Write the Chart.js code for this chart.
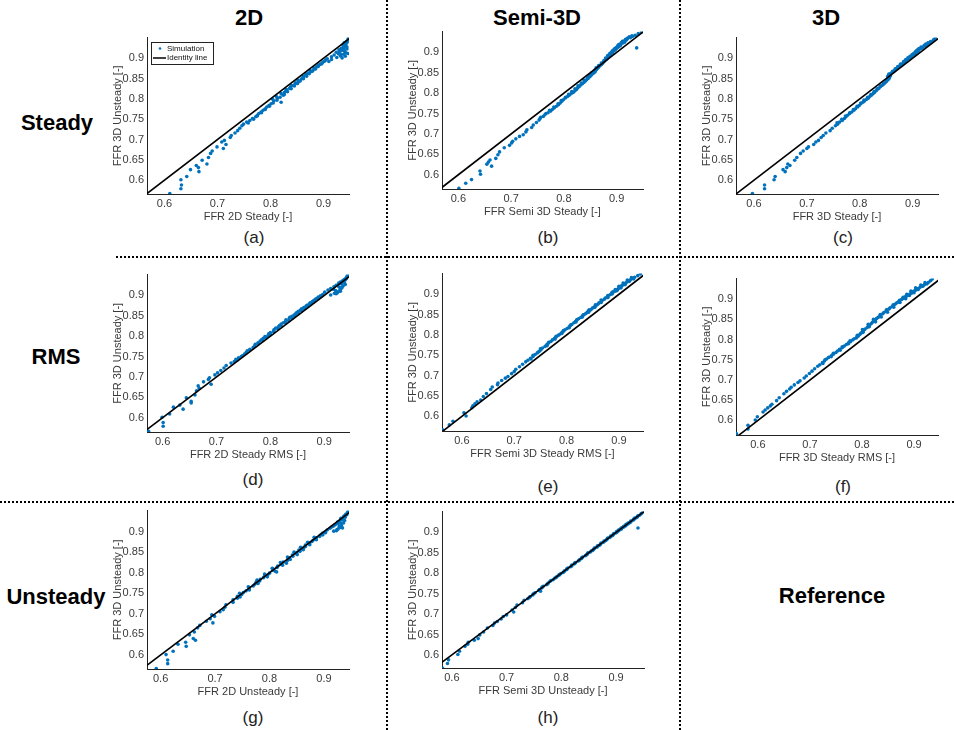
<!DOCTYPE html>
<html>
<head>
<meta charset="utf-8">
<title>FFR comparison</title>
<script src="https://cdn.jsdelivr.net/npm/chart.js@4.4.0/dist/chart.umd.min.js"></script>
<style>
    body {
        margin: 0;
        width: 954px;
        height: 730px;
        position: relative;
        overflow: hidden;
        background: #fff;
        font-family: 'Liberation Sans', Arial, sans-serif;
    }
    .txt {
        position: absolute;
        transform: translate(-50%, -50%);
        white-space: nowrap;
    }
    .head { font-weight: bold; font-size: 22px; color: #000; }
    .cap { font-size: 17px; color: #222; }
    .vline { position: absolute; width: 0; border-left: 2px dotted #000; }
    .hline { position: absolute; height: 0; border-top: 2px dotted #000; }
    canvas { position: absolute; }
</style>
</head>
<body>

<div class="vline" style="left:386px; top:0; height:730px;"></div>
<div class="vline" style="left:679px; top:0; height:730px;"></div>
<div class="hline" style="left:116px; top:256px; width:838px;"></div>
<div class="hline" style="left:0; top:501px; width:954px;"></div>

<div class="txt head" style="left:249px; top:18px;">2D</div>
<div class="txt head" style="left:537px; top:18px;">Semi-3D</div>
<div class="txt head" style="left:826px; top:18px;">3D</div>
<div class="txt head" style="left:57px; top:123px;">Steady</div>
<div class="txt head" style="left:56px; top:357px;">RMS</div>
<div class="txt head" style="left:56px; top:597px;">Unsteady</div>
<div class="txt head" style="left:832px; top:596px;">Reference</div>

<div class="txt cap" style="left:254px; top:238px;">(a)</div>
<div class="txt cap" style="left:548px; top:238px;">(b)</div>
<div class="txt cap" style="left:843px; top:238px;">(c)</div>
<div class="txt cap" style="left:253px; top:480px;">(d)</div>
<div class="txt cap" style="left:548px; top:487px;">(e)</div>
<div class="txt cap" style="left:843px; top:487px;">(f)</div>
<div class="txt cap" style="left:253px; top:718px;">(g)</div>
<div class="txt cap" style="left:548px; top:718px;">(h)</div>

<script>
// Reference FFR (3D unsteady), shared y values for every panel
const ffr3dUnsteady = [
    0.567, 0.579, 0.588, 0.601, 0.609, 0.621, 0.626, 0.631, 0.636, 0.640,
    0.649, 0.656, 0.666, 0.672, 0.678, 0.682, 0.688, 0.694, 0.698, 0.705,
    0.710, 0.716, 0.722, 0.728, 0.734, 0.738, 0.743, 0.747, 0.752, 0.756,
    0.760, 0.764, 0.768, 0.772, 0.776, 0.780, 0.784, 0.788, 0.792, 0.795,
    0.799, 0.802, 0.806, 0.809, 0.813, 0.816, 0.820, 0.823, 0.826, 0.830,
    0.833, 0.836, 0.840, 0.843, 0.846, 0.849, 0.852, 0.855, 0.858, 0.861,
    0.864, 0.867, 0.870, 0.873, 0.876, 0.879, 0.882, 0.885, 0.888, 0.891,
    0.893, 0.896, 0.899, 0.902, 0.904, 0.906, 0.908, 0.910, 0.911, 0.913,
    0.915, 0.917, 0.919, 0.921, 0.923, 0.925, 0.927, 0.930, 0.933, 0.936,
    0.939, 0.942, 0.946, 0.950,
    // second batch of cases
    0.741, 0.750, 0.758, 0.766, 0.774, 0.782, 0.790, 0.797, 0.804, 0.811,
    0.818, 0.825, 0.832, 0.838, 0.844, 0.850, 0.856, 0.862, 0.868, 0.874,
    0.880, 0.886, 0.892, 0.897, 0.901, 0.905, 0.909, 0.912, 0.916, 0.920,
    0.924, 0.928, 0.932, 0.935, 0.938, 0.941
];

// Reduced-order model predictions, same case order as ffr3dUnsteady
const ffr2dSteady = [
    0.610, 0.631, 0.632, 0.631, 0.642, 0.665, 0.649, 0.664, 0.660, 0.680,
    0.671, 0.683, 0.687, 0.690, 0.711, 0.699, 0.716, 0.708, 0.713, 0.724,
    0.726, 0.733, 0.738, 0.742, 0.746, 0.749, 0.755, 0.761, 0.766, 0.772,
    0.775, 0.778, 0.782, 0.786, 0.790, 0.793, 0.797, 0.801, 0.820, 0.806,
    0.804, 0.813, 0.811, 0.824, 0.820, 0.826, 0.829, 0.830, 0.836, 0.838,
    0.840, 0.846, 0.847, 0.853, 0.852, 0.858, 0.861, 0.862, 0.866, 0.868,
    0.872, 0.876, 0.875, 0.882, 0.882, 0.887, 0.890, 0.893, 0.897, 0.899,
    0.902, 0.904, 0.907, 0.925, 0.915, 0.932, 0.920, 0.938, 0.928, 0.943,
    0.924, 0.940, 0.934, 0.929, 0.944, 0.936, 0.940, 0.938, 0.942, 0.942,
    0.944, 0.945, 0.946, 0.947,
    0.758, 0.768, 0.775, 0.783, 0.790, 0.798, 0.805, 0.812, 0.818, 0.826,
    0.832, 0.839, 0.845, 0.851, 0.856, 0.862, 0.868, 0.873, 0.879, 0.885,
    0.890, 0.896, 0.910, 0.915, 0.935, 0.941, 0.933, 0.946, 0.930, 0.938,
    0.933, 0.944, 0.937, 0.940, 0.939, 0.943
];

const ffrSemi3dSteady = [
    0.601, 0.614, 0.625, 0.642, 0.641, 0.663, 0.654, 0.657, 0.660, 0.671,
    0.675, 0.678, 0.687, 0.697, 0.701, 0.703, 0.709, 0.716, 0.723, 0.728,
    0.730, 0.739, 0.742, 0.748, 0.753, 0.755, 0.761, 0.764, 0.770, 0.775,
    0.778, 0.782, 0.786, 0.790, 0.793, 0.796, 0.799, 0.803, 0.807, 0.810,
    0.814, 0.818, 0.821, 0.824, 0.826, 0.829, 0.832, 0.835, 0.838, 0.841,
    0.843, 0.846, 0.849, 0.851, 0.853, 0.856, 0.859, 0.860, 0.862, 0.864,
    0.866, 0.868, 0.871, 0.873, 0.875, 0.877, 0.880, 0.882, 0.884, 0.886,
    0.888, 0.889, 0.892, 0.893, 0.895, 0.897, 0.898, 0.900, 0.938, 0.903,
    0.905, 0.907, 0.904, 0.909, 0.912, 0.915, 0.911, 0.918, 0.920, 0.926,
    0.930, 0.935, 0.941, 0.947,
    0.756, 0.766, 0.773, 0.781, 0.789, 0.795, 0.803, 0.809, 0.815, 0.821,
    0.827, 0.833, 0.838, 0.845, 0.849, 0.853, 0.858, 0.861, 0.866, 0.871,
    0.876, 0.879, 0.883, 0.887, 0.890, 0.893, 0.896, 0.899, 0.902, 0.906,
    0.909, 0.914, 0.917, 0.921, 0.924, 0.929
];

const ffr3dSteady = [
    0.597, 0.620, 0.620, 0.638, 0.640, 0.659, 0.655, 0.662, 0.668, 0.664,
    0.677, 0.681, 0.688, 0.693, 0.700, 0.703, 0.713, 0.717, 0.722, 0.727,
    0.731, 0.736, 0.744, 0.748, 0.754, 0.758, 0.762, 0.767, 0.771, 0.774,
    0.777, 0.781, 0.785, 0.789, 0.792, 0.796, 0.799, 0.802, 0.806, 0.809,
    0.813, 0.816, 0.819, 0.822, 0.825, 0.828, 0.831, 0.833, 0.836, 0.839,
    0.842, 0.845, 0.848, 0.850, 0.852, 0.855, 0.856, 0.857, 0.858, 0.855,
    0.860, 0.864, 0.866, 0.868, 0.871, 0.874, 0.876, 0.879, 0.882, 0.885,
    0.886, 0.889, 0.893, 0.895, 0.897, 0.899, 0.902, 0.903, 0.905, 0.906,
    0.907, 0.909, 0.911, 0.910, 0.914, 0.917, 0.919, 0.924, 0.927, 0.930,
    0.933, 0.937, 0.940, 0.943,
    0.757, 0.766, 0.773, 0.781, 0.788, 0.795, 0.802, 0.808, 0.815, 0.821,
    0.827, 0.833, 0.839, 0.845, 0.851, 0.854, 0.853, 0.858, 0.862, 0.867,
    0.872, 0.877, 0.883, 0.887, 0.891, 0.895, 0.899, 0.902, 0.905, 0.908,
    0.912, 0.916, 0.922, 0.925, 0.929, 0.934
];

const ffr2dSteadyRms = [
    0.574, 0.601, 0.601, 0.599, 0.613, 0.638, 0.620, 0.632, 0.653, 0.653,
    0.644, 0.660, 0.663, 0.668, 0.666, 0.690, 0.676, 0.685, 0.687, 0.697,
    0.702, 0.708, 0.714, 0.718, 0.727, 0.733, 0.736, 0.741, 0.748, 0.752,
    0.755, 0.757, 0.762, 0.768, 0.771, 0.772, 0.777, 0.781, 0.784, 0.787,
    0.790, 0.796, 0.797, 0.800, 0.806, 0.807, 0.810, 0.815, 0.817, 0.820,
    0.824, 0.828, 0.829, 0.835, 0.836, 0.840, 0.844, 0.847, 0.849, 0.852,
    0.856, 0.858, 0.862, 0.866, 0.868, 0.872, 0.874, 0.878, 0.881, 0.884,
    0.887, 0.889, 0.893, 0.897, 0.922, 0.924, 0.901, 0.930, 0.928, 0.907,
    0.917, 0.912, 0.933, 0.918, 0.935, 0.922, 0.939, 0.927, 0.930, 0.934,
    0.937, 0.940, 0.942, 0.944,
    0.738, 0.746, 0.755, 0.762, 0.770, 0.778, 0.786, 0.793, 0.800, 0.806,
    0.814, 0.820, 0.828, 0.834, 0.841, 0.846, 0.852, 0.858, 0.863, 0.870,
    0.876, 0.882, 0.889, 0.894, 0.912, 0.919, 0.926, 0.921, 0.931, 0.928,
    0.925, 0.932, 0.937, 0.936, 0.939, 0.941
];

const ffrSemi3dSteadyRms = [
    0.563, 0.576, 0.583, 0.608, 0.604, 0.619, 0.621, 0.625, 0.629, 0.636,
    0.641, 0.647, 0.655, 0.658, 0.668, 0.669, 0.676, 0.683, 0.688, 0.695,
    0.700, 0.703, 0.710, 0.716, 0.722, 0.726, 0.731, 0.736, 0.740, 0.744,
    0.748, 0.751, 0.754, 0.759, 0.762, 0.765, 0.770, 0.773, 0.777, 0.780,
    0.784, 0.787, 0.791, 0.794, 0.797, 0.801, 0.805, 0.807, 0.810, 0.814,
    0.817, 0.819, 0.823, 0.827, 0.830, 0.832, 0.836, 0.839, 0.841, 0.845,
    0.848, 0.850, 0.854, 0.857, 0.860, 0.862, 0.866, 0.868, 0.872, 0.874,
    0.877, 0.879, 0.883, 0.886, 0.888, 0.889, 0.893, 0.894, 0.897, 0.898,
    0.900, 0.902, 0.904, 0.905, 0.908, 0.909, 0.912, 0.915, 0.918, 0.922,
    0.925, 0.930, 0.936, 0.941,
    0.732, 0.736, 0.746, 0.750, 0.763, 0.766, 0.778, 0.780, 0.791, 0.794,
    0.805, 0.808, 0.818, 0.820, 0.830, 0.832, 0.842, 0.843, 0.854, 0.855,
    0.866, 0.866, 0.879, 0.879, 0.887, 0.887, 0.896, 0.893, 0.904, 0.900,
    0.912, 0.908, 0.920, 0.916, 0.928, 0.924
];

const ffr3dSteadyRms = [
    0.559, 0.581, 0.581, 0.595, 0.599, 0.610, 0.614, 0.619, 0.624, 0.627,
    0.636, 0.641, 0.650, 0.655, 0.661, 0.664, 0.670, 0.677, 0.681, 0.689,
    0.693, 0.699, 0.704, 0.709, 0.715, 0.719, 0.724, 0.728, 0.732, 0.736,
    0.741, 0.745, 0.750, 0.753, 0.757, 0.762, 0.766, 0.770, 0.774, 0.778,
    0.782, 0.785, 0.790, 0.793, 0.796, 0.798, 0.801, 0.803, 0.806, 0.810,
    0.812, 0.815, 0.818, 0.820, 0.823, 0.826, 0.828, 0.831, 0.834, 0.836,
    0.840, 0.842, 0.846, 0.848, 0.852, 0.854, 0.858, 0.861, 0.864, 0.867,
    0.870, 0.872, 0.876, 0.879, 0.882, 0.883, 0.886, 0.888, 0.891, 0.892,
    0.895, 0.897, 0.899, 0.901, 0.904, 0.906, 0.909, 0.912, 0.916, 0.920,
    0.923, 0.928, 0.932, 0.935,
    0.725, 0.729, 0.741, 0.745, 0.758, 0.762, 0.774, 0.777, 0.789, 0.791,
    0.802, 0.801, 0.814, 0.812, 0.826, 0.822, 0.837, 0.835, 0.849, 0.847,
    0.861, 0.860, 0.873, 0.872, 0.884, 0.879, 0.891, 0.886, 0.900, 0.894,
    0.908, 0.903, 0.917, 0.913, 0.925, 0.921
];

const ffr2dUnsteady = [
    0.592, 0.613, 0.613, 0.610, 0.623, 0.647, 0.632, 0.646, 0.664, 0.660,
    0.653, 0.662, 0.668, 0.672, 0.696, 0.684, 0.691, 0.699, 0.694, 0.709,
    0.715, 0.718, 0.720, 0.733, 0.733, 0.741, 0.741, 0.749, 0.752, 0.757,
    0.762, 0.763, 0.770, 0.773, 0.775, 0.782, 0.783, 0.789, 0.791, 0.797,
    0.800, 0.813, 0.806, 0.807, 0.814, 0.815, 0.822, 0.831, 0.825, 0.833,
    0.834, 0.837, 0.843, 0.842, 0.849, 0.850, 0.856, 0.854, 0.860, 0.863,
    0.866, 0.866, 0.873, 0.874, 0.878, 0.880, 0.884, 0.886, 0.892, 0.893,
    0.896, 0.897, 0.902, 0.923, 0.906, 0.926, 0.911, 0.930, 0.914, 0.917,
    0.932, 0.921, 0.926, 0.936, 0.925, 0.928, 0.938, 0.932, 0.935, 0.936,
    0.939, 0.940, 0.943, 0.945,
    0.746, 0.745, 0.763, 0.761, 0.779, 0.777, 0.796, 0.791, 0.810, 0.805,
    0.824, 0.820, 0.838, 0.833, 0.851, 0.845, 0.862, 0.857, 0.874, 0.870,
    0.886, 0.882, 0.898, 0.903, 0.918, 0.924, 0.934, 0.928, 0.919, 0.931,
    0.929, 0.934, 0.931, 0.939, 0.937, 0.942
];

const ffrSemi3dUnsteady = [
    0.583, 0.592, 0.594, 0.611, 0.614, 0.624, 0.629, 0.630, 0.641, 0.648,
    0.651, 0.658, 0.665, 0.675, 0.678, 0.683, 0.690, 0.694, 0.700, 0.713,
    0.710, 0.716, 0.719, 0.729, 0.732, 0.739, 0.743, 0.748, 0.752, 0.762,
    0.760, 0.764, 0.767, 0.773, 0.776, 0.779, 0.785, 0.788, 0.792, 0.796,
    0.799, 0.803, 0.806, 0.810, 0.812, 0.817, 0.819, 0.824, 0.826, 0.831,
    0.833, 0.837, 0.839, 0.844, 0.847, 0.848, 0.853, 0.855, 0.859, 0.860,
    0.865, 0.866, 0.871, 0.872, 0.877, 0.878, 0.883, 0.884, 0.889, 0.890,
    0.894, 0.895, 0.900, 0.901, 0.905, 0.905, 0.909, 0.909, 0.940, 0.914,
    0.914, 0.918, 0.918, 0.922, 0.922, 0.926, 0.927, 0.931, 0.932, 0.937,
    0.939, 0.943, 0.946, 0.949,
    0.742, 0.749, 0.759, 0.765, 0.775, 0.781, 0.791, 0.796, 0.805, 0.810,
    0.819, 0.824, 0.833, 0.837, 0.845, 0.849, 0.857, 0.861, 0.869, 0.873,
    0.881, 0.885, 0.893, 0.896, 0.902, 0.904, 0.910, 0.911, 0.917, 0.919,
    0.925, 0.927, 0.933, 0.934, 0.939, 0.940
];

const xTicks = [0.6, 0.7, 0.8, 0.9];
const yTicks = [0.6, 0.65, 0.7, 0.75, 0.8, 0.85, 0.9];
const identityEnds = [0.55, 0.96];

const FONT = "'Liberation Sans', Arial, sans-serif";
const BLUE = '#0072BD';
const AXIS_COLOR = '#222';
const LABEL_COLOR = '#3a3a3a';
const Y_AXIS_W = 40;
const X_AXIS_H = 34;
const PAD = 6;

// one entry per subplot; box = plot area [left, top, right, bottom] in page px
const panels = [
    { x: ffr2dSteady,        xLabel: 'FFR 2D Steady [-]',           box: [147, 34, 349, 194],  xr: [0.567, 0.948], yr: [0.566, 0.951], legend: true },
    { x: ffrSemi3dSteady,    xLabel: 'FFR Semi 3D Steady [-]',      box: [442, 28, 643, 189],  xr: [0.569, 0.950], yr: [0.565, 0.951] },
    { x: ffr3dSteady,        xLabel: 'FFR 3D Steady [-]',           box: [736, 34, 938, 194],  xr: [0.566, 0.948], yr: [0.566, 0.951] },
    { x: ffr2dSteadyRms,     xLabel: 'FFR 2D Steady RMS [-]',       box: [147, 271, 349, 432], xr: [0.571, 0.946], yr: [0.565, 0.951] },
    { x: ffrSemi3dSteadyRms, xLabel: 'FFR Semi 3D Steady RMS [-]',  box: [442, 270, 643, 431], xr: [0.562, 0.946], yr: [0.564, 0.951] },
    { x: ffr3dSteadyRms,     xLabel: 'FFR 3D Steady RMS [-]',       box: [736, 275, 938, 435], xr: [0.558, 0.946], yr: [0.564, 0.951] },
    { x: ffr2dUnsteady,      xLabel: 'FFR 2D Unsteady [-]',         box: [147, 507, 349, 669], xr: [0.575, 0.946], yr: [0.566, 0.951] },
    { x: ffrSemi3dUnsteady,  xLabel: 'FFR Semi 3D Unsteady [-]',    box: [442, 508, 644, 668], xr: [0.582, 0.951], yr: [0.568, 0.951] }
];

/**
 * Small boxed legend in the upper-left corner of the plot area
 */
const insetLegend = {
    id: 'insetLegend',
    afterDatasetsDraw(chart, args, opts) {
        if (!opts.show) return;
        const ctx = chart.ctx;
        const area = chart.chartArea;
        const x = Math.round(area.left) + 4;
        const y = Math.round(area.top) + 4;
        const sim = chart.data.datasets.find(d => d.label === 'Simulation');
        const line = chart.data.datasets.find(d => d.label === 'Identity line');

        ctx.save();
        ctx.fillStyle = '#fff';
        ctx.fillRect(x, y, 62, 22);
        ctx.strokeStyle = AXIS_COLOR;
        ctx.lineWidth = 1;
        ctx.strokeRect(x + 0.5, y + 0.5, 62, 22);

        ctx.font = '8px ' + FONT;
        ctx.textBaseline = 'middle';

        ctx.fillStyle = sim.backgroundColor;
        ctx.beginPath();
        ctx.arc(x + 9, y + 6.5, 1.3, 0, Math.PI * 2);
        ctx.fill();
        ctx.fillStyle = '#111';
        ctx.fillText(sim.label, x + 16, y + 6.5);

        ctx.strokeStyle = line.borderColor;
        ctx.lineWidth = 1.5;
        ctx.beginPath();
        ctx.moveTo(x + 2, y + 16);
        ctx.lineTo(x + 15, y + 16);
        ctx.stroke();
        ctx.fillText(line.label, x + 16, y + 16);
        ctx.restore();
    }
};

function axisOptions(range, ticks, title, isX) {
    return {
        type: 'linear',
        min: range[0],
        max: range[1],
        // no grid and no outward tick marks, only the axis line
        grid: { display: false, drawTicks: false, tickLength: 0 },
        border: { display: true, color: AXIS_COLOR, width: 1 },
        ticks: {
            color: LABEL_COLOR,
            font: { family: FONT, size: 11 },
            padding: 3,
            maxRotation: 0,
            autoSkip: false,
            callback: function(v) { return String(v); }
        },
        afterBuildTicks: function(axis) {
            axis.ticks = ticks.map(function(v) { return { value: v }; });
        },
        afterFit: function(axis) {
            if (isX) {
                axis.height = X_AXIS_H;
            } else {
                axis.width = Y_AXIS_W;
            }
        },
        title: {
            display: true,
            text: title,
            color: LABEL_COLOR,
            font: { family: FONT, size: 11 },
            padding: { top: 4, bottom: 4 }
        }
    };
}

function drawPanel(p) {
    const [l, t, r, b] = p.box;
    const canvas = document.createElement('canvas');
    canvas.width = (r - l) + Y_AXIS_W + PAD;
    canvas.height = (b - t) + X_AXIS_H + PAD;
    canvas.style.left = (l - Y_AXIS_W) + 'px';
    canvas.style.top = (t - PAD) + 'px';
    document.body.appendChild(canvas);

    const points = ffr3dUnsteady.map(function(y, i) {
        return { x: p.x[i], y: y };
    });
    const identity = identityEnds.map(function(v) {
        return { x: v, y: v };
    });

    new Chart(canvas.getContext('2d'), {
        type: 'scatter',
        data: {
            datasets: [{
                label: 'Simulation',
                data: points,
                backgroundColor: BLUE,
                borderWidth: 0,
                pointRadius: 1.8,
                order: 1
            }, {
                type: 'line',
                label: 'Identity line',
                data: identity,
                borderColor: '#000',
                borderWidth: 1.6,
                pointRadius: 0,
                fill: false,
                order: 0
            }]
        },
        options: {
            responsive: false,
            animation: false,
            events: [],
            devicePixelRatio: 1,
            layout: { padding: { top: PAD, right: PAD, left: 0, bottom: 0 } },
            plugins: {
                legend: { display: false },
                tooltip: { enabled: false },
                insetLegend: { show: !!p.legend }
            },
            scales: {
                x: axisOptions(p.xr, xTicks, p.xLabel, true),
                y: axisOptions(p.yr, yTicks, 'FFR 3D Unsteady [-]', false)
            }
        },
        plugins: [insetLegend]
    });
}

panels.forEach(drawPanel);
</script>
</body>
</html>
